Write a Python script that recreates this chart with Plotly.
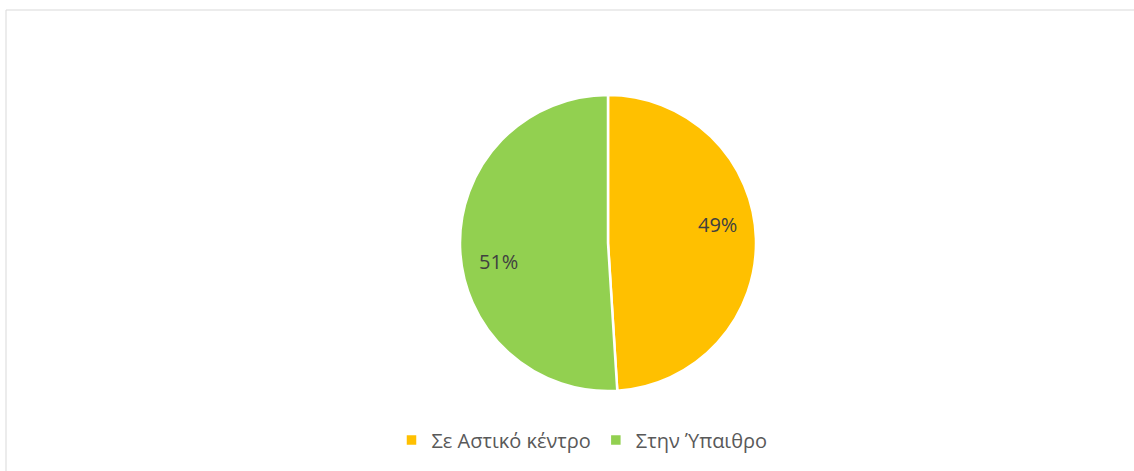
import math
import plotly.graph_objects as go

# dati del grafico
labels = ["Σε Αστικό κέντρο", "Στην Ύπαιθρο"]
values = [49, 51]
colors = ["#FFC000", "#92D050"]

W, H = 1134, 471

# centro e raggio della torta (in pixel)
cx, cy, R = 608, 243, 148

fig = go.Figure(go.Pie(
    labels=labels,
    values=values,
    sort=False,
    direction="clockwise",
    rotation=0,
    marker=dict(colors=colors, line=dict(color="white", width=2.5)),
    textinfo="none",
    hoverinfo="label+percent",
    domain=dict(x=[(cx - 400) / W, (cx + 400) / W], y=[(H - cy - R) / H, (H - cy + R) / H]),
))

# etichette percentuali, posizionate come in Excel
total = sum(values)
start = 0
annotations = []
for v in values:
    mid = start + v / total * 360 / 2 - 8
    start += v / total * 360
    a = math.radians(mid)
    px_ = cx + 0.75 * R * math.sin(a)
    py_ = cy - 0.75 * R * math.cos(a)
    annotations.append(dict(
        x=px_ / W, y=1 - py_ / H, xref="paper", yref="paper",
        text=f"{round(v / total * 100)}%", showarrow=False,
        font=dict(family="Open Sans", size=20, color="#404040"),
    ))

fig.update_layout(
    width=W, height=H,
    margin=dict(l=0, r=0, t=0, b=0),
    paper_bgcolor="white",
    plot_bgcolor="white",
    font=dict(family="Open Sans", color="#595959"),
    legend=dict(
        orientation="h",
        x=582 / W, xanchor="center",
        y=(H - 440) / H, yanchor="middle",
        font=dict(size=20, color="#595959"),
    ),
    annotations=annotations,
    shapes=[dict(
        type="rect", xref="paper", yref="paper",
        x0=6 / W, x1=1.01, y0=-0.01, y1=1 - 10 / H,
        line=dict(color="#d9d9d9", width=1),
    )],
)

# toglie il margine di default del body, così il grafico parte da (0,0)
fig.write_html("out.html", config={"displayModeBar": False},
               post_script="document.body.style.margin='0';")
